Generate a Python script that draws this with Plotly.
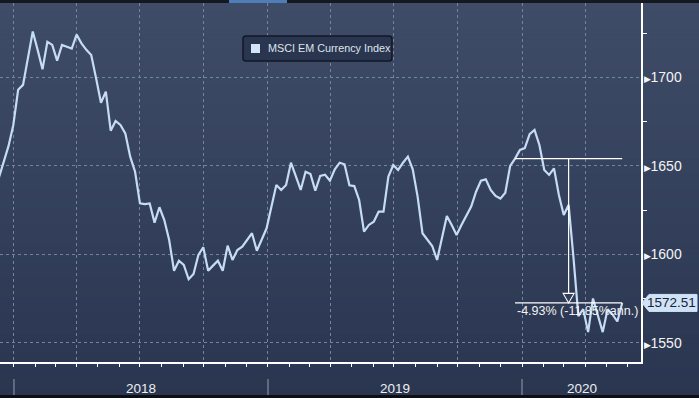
import plotly.graph_objects as go
import pandas as pd

# ---------------- data ----------------
series_name = "MSCI EM Currency Index"
start_date = "2017-12-10"          # first weekly observation
index_values = [
    1643, 1651.5, 1661, 1673, 1693, 1695.8, 1710, 1726, 1715.6, 1704.6,
    1720.2, 1718.4, 1709.5, 1718.4, 1717.4, 1716.3, 1724.2, 1719.3, 1715.6, 1712.7,
    1699.5, 1685.7, 1692, 1669.9, 1675.4, 1673.1, 1668.4, 1655.2, 1646.7, 1628.8,
    1628.4, 1628.8, 1617.9, 1626.6, 1619.4, 1608.1, 1590.7, 1596.4, 1594, 1585.9,
    1588.9, 1599.6, 1604, 1590.7, 1593.6, 1596.4, 1590.7, 1604.9, 1596.8, 1602.4,
    1604.3, 1608.1, 1611.9, 1602, 1608.1, 1614.7, 1627, 1639.2, 1636.4, 1639.2,
    1651.8, 1644, 1636.4, 1646.7, 1645.4, 1636, 1644.3, 1645, 1641.6, 1648.1,
    1651.8, 1650.9, 1639, 1638.6, 1630.7, 1612.8, 1616.6, 1618.4, 1624.1, 1624.1,
    1644, 1650.5, 1647.7, 1651.8, 1655.2, 1648.1, 1632.6, 1611.9, 1608.1, 1604.7,
    1596.8, 1609, 1621.7, 1616.6, 1610.9, 1616.6, 1621.7, 1627, 1635.4, 1641.6,
    1642.4, 1636.4, 1633, 1631.5, 1634.8, 1650, 1654.1, 1659, 1660, 1668,
    1670.3, 1661.8, 1647.7, 1644.9, 1648.6, 1633.5, 1622.2, 1627.9, 1598, 1565,
    1569, 1556, 1575, 1566, 1556, 1569, 1566, 1562, 1572.51,
]
year_labels = ["2018", "2019", "2020"]
y_tick_values = [1550, 1600, 1650, 1700]
y_tick_labels = ["1550", "1600", "1650", "1700"]
measure_start_date = "2019-12-22"
change_label = "-4.93% (-11.85%ann.)"
x_range = ["2017-12-11 22:00", "2020-06-20"]
y_range = [1539.1, 1742.1]

dates = pd.date_range(start_date, periods=len(index_values), freq="7D")

# ---------------- geometry helpers ----------------
W, H = 699, 398
ML, MR, MT, MB = 0, 58, 3, 36
PW = W - ML - MR
PH = H - MT - MB
y_per_px = (y_range[1] - y_range[0]) / PH
x0_ts = pd.Timestamp(x_range[0])
x1_ts = pd.Timestamp(x_range[1])
ms_per_px = (x1_ts - x0_ts).total_seconds() * 1000 / PW


def px_x(px):
    return (px - ML) / PW


def px_y(py):
    return (H - MB - py) / PH


FONT = "Liberation Sans"
LINE_COLOR = "#c6dbf4"
GRID_COLOR = "#76839f"

fig = go.Figure()
fig.add_trace(go.Scatter(
    x=dates, y=index_values, mode="lines", name=series_name,
    line=dict(color=LINE_COLOR, width=2.2), showlegend=False,
    hoverinfo="x+y",
))

shapes = []
# background vertical gradient
N = 80
top_c = (63, 76, 104)
bot_c = (42, 54, 80)
for i in range(N):
    t = i / (N - 1)
    c = tuple(round(top_c[k] + (bot_c[k] - top_c[k]) * t) for k in range(3))
    shapes.append(dict(type="rect", xref="paper", yref="paper",
                       x0=px_x(0), x1=px_x(W + 1),
                       y0=px_y(i * H / N), y1=px_y((i + 1) * H / N + 0.6),
                       fillcolor="rgb(%d,%d,%d)" % c, line=dict(width=0), layer="below"))
# top UI strip and bottom strip
shapes.append(dict(type="rect", xref="paper", yref="paper", x0=px_x(0), x1=px_x(W + 1),
                   y0=px_y(3), y1=px_y(-2), fillcolor="#15181e", line=dict(width=0), layer="above"))
shapes.append(dict(type="rect", xref="paper", yref="paper", x0=px_x(229), x1=px_x(287),
                   y0=px_y(3), y1=px_y(0), fillcolor="#4f7db8", line=dict(width=0), layer="above"))
shapes.append(dict(type="rect", xref="paper", yref="paper", x0=px_x(0), x1=px_x(W + 1),
                   y0=px_y(H + 2), y1=px_y(395), fillcolor="#0d0f14", line=dict(width=0), layer="above"))

# year separators
for y in year_labels:
    shapes.append(dict(type="line", xref="x", yref="paper",
                       x0="%s-01-01" % y, x1="%s-01-01" % y,
                       y0=px_y(379), y1=px_y(395),
                       line=dict(color="#949db0", width=1)))

# change measurement annotation
t_start = pd.Timestamp(measure_start_date)
i_start = list(dates).index(t_start)
v_start = index_values[i_start]
t_end = dates[-1]
v_end = index_values[-1]
t_mid = t_start + (t_end - t_start) / 2
for v in (v_start, v_end):
    shapes.append(dict(type="line", xref="x", yref="y", x0=t_start, x1=t_end, y0=v, y1=v,
                       line=dict(color="white", width=1.2), layer="above"))
tri_h = 9.5 * y_per_px
tri_w = 5.5 * ms_per_px
shapes.append(dict(type="line", xref="x", yref="y", x0=t_mid, x1=t_mid,
                   y0=v_start, y1=v_end + tri_h, line=dict(color="white", width=1.2), layer="above"))
mid_ms = t_mid.value / 1e6
shapes.append(dict(type="path", xref="x", yref="y",
                   path="M %f,%f L %f,%f L %f,%f Z" % (mid_ms - tri_w, v_end + tri_h,
                                                       mid_ms + tri_w, v_end + tri_h,
                                                       mid_ms, v_end),
                   fillcolor="#33405c", line=dict(color="white", width=1.1), layer="above"))

# last value tag on the right axis
hh = 8.5 * y_per_px
shapes.append(dict(type="path", xref="paper", yref="y",
                   path="M %f,%f L %f,%f L %f,%f L %f,%f L %f,%f Z" % (
                       px_x(642), v_end, px_x(649), v_end + hh, px_x(697), v_end + hh,
                       px_x(697), v_end - hh, px_x(649), v_end - hh),
                   fillcolor="#cfe3f8", line=dict(color="#cfe3f8", width=1), layer="above"))

# legend box (drawn manually)
lx0, lx1, ly0, ly1, r = 243, 392, 36, 61, 3
rx, ry = r / PW, r / PH
X0, X1, Y0, Y1 = px_x(lx0), px_x(lx1), px_y(ly1), px_y(ly0)
legend_path = (
    "M %f,%f L %f,%f Q %f,%f %f,%f L %f,%f Q %f,%f %f,%f L %f,%f Q %f,%f %f,%f L %f,%f Q %f,%f %f,%f Z"
    % (X0 + rx, Y0, X1 - rx, Y0, X1, Y0, X1, Y0 + ry, X1, Y1 - ry, X1, Y1, X1 - rx, Y1,
       X0 + rx, Y1, X0, Y1, X0, Y1 - ry, X0, Y0 + ry, X0, Y0, X0 + rx, Y0)
)
shapes.append(dict(type="path", xref="paper", yref="paper", path=legend_path,
                   fillcolor="#2a3550", line=dict(color="#101726", width=1.5), layer="above"))
shapes.append(dict(type="rect", xref="paper", yref="paper",
                   x0=px_x(251), x1=px_x(260), y0=px_y(53), y1=px_y(44),
                   fillcolor="#d3e5f9", line=dict(width=0), layer="above"))

annotations = [
    dict(xref="paper", yref="paper", x=px_x(266), y=px_y(48.5), xanchor="left", yanchor="middle",
         text=series_name, showarrow=False, font=dict(family=FONT, size=10.8, color="#dfe4ec")),
    dict(xref="x", yref="y", x=t_start, y=v_end, xanchor="left", yanchor="top", xshift=0, yshift=1,
         text=change_label, showarrow=False, font=dict(family=FONT, size=12.5, color="#f2f2f2")),
    dict(xref="paper", yref="y", x=px_x(671), y=v_end, xanchor="center", yanchor="middle",
         text="%.2f" % v_end, showarrow=False, font=dict(family=FONT, size=13.5, color="#1a2233")),
]
# year labels centred on the visible part of each year
for y in year_labels:
    a = max(pd.Timestamp("%s-01-01" % y), x0_ts)
    b = min(pd.Timestamp("%d-01-01" % (int(y) + 1)), x1_ts)
    annotations.append(dict(xref="x", yref="paper", x=a + (b - a) / 2, y=px_y(388),
                            xanchor="center", yanchor="middle", text=y, showarrow=False,
                            font=dict(family=FONT, size=13.5, color="#eceef2")))

minor_y = [(a + b) / 2 for a, b in zip(y_tick_values[:-1], y_tick_values[1:])] + [y_tick_values[-1] + 25]

fig.update_layout(
    width=W, height=H,
    margin=dict(l=ML, r=MR, t=MT, b=MB, pad=0),
    paper_bgcolor="#34405b", plot_bgcolor="rgba(0,0,0,0)",
    showlegend=False,
    shapes=shapes, annotations=annotations,
    xaxis=dict(type="date", range=x_range, showline=True, linecolor="white", linewidth=1.5,
               showticklabels=False, tick0="2018-01-01", dtick="M3",
               ticks="outside", ticklen=3, tickcolor="white", tickwidth=1,
               showgrid=True, gridcolor=GRID_COLOR, griddash="dot", gridwidth=1, zeroline=False,
               minor=dict(dtick="M1", ticks="outside", ticklen=3, tickcolor="white",
                          tickwidth=1, showgrid=False)),
    yaxis=dict(side="right", range=y_range, tickmode="array", tickvals=y_tick_values,
               ticktext=['<span style="font-size:9px">\u25b6</span>' + t for t in y_tick_labels],
               ticks="", showline=True, linecolor="white", linewidth=1.5,
               showgrid=True, gridcolor=GRID_COLOR, griddash="dot", gridwidth=1, zeroline=False,
               tickfont=dict(family=FONT, size=14, color="#f4f4f4"), ticklabelstandoff=-2,
               minor=dict(tickmode="array", tickvals=minor_y, ticks="outside", ticklen=4,
                          tickcolor="white", tickwidth=1.2, showgrid=False)),
)

fig.write_html("out.html", config={"displayModeBar": False},
               post_script="document.body.style.margin='0px';document.body.style.overflow='hidden';")
